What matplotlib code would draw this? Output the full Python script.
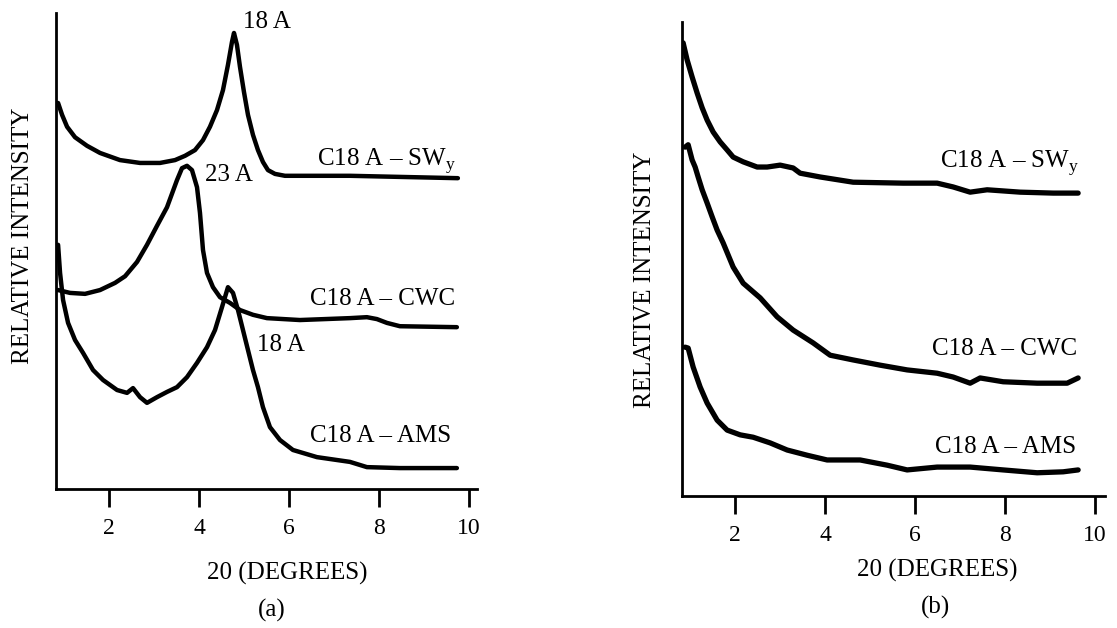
import matplotlib
matplotlib.use("Agg")
import matplotlib.pyplot as plt

plt.rcParams['font.family'] = ['Liberation Serif', 'DejaVu Serif']
plt.rcParams['mathtext.fontset'] = 'custom'
plt.rcParams['mathtext.rm'] = 'Liberation Serif'

# panel (a) - intensity in arbitrary units (0-100)
a_swy_x = [0.867, 0.956, 1.067, 1.244, 1.511, 1.8, 2.244, 2.689, 3.133, 3.467, 3.689, 3.911,
           4.089, 4.244, 4.4, 4.533, 4.644, 4.733, 4.778, 4.844, 4.911, 5.0, 5.089, 5.2,
           5.311, 5.422, 5.533, 5.689, 5.911, 7.356, 9.756]
a_swy_y = [81.1, 78.6, 76.1, 73.9, 72.1, 70.6, 69.1, 68.5, 68.5, 69.1, 70.0, 71.2,
           73.3, 76.1, 79.6, 83.8, 89.1, 93.9, 95.8, 93.3, 88.7, 83.4, 78.6, 74.4,
           71.2, 68.7, 67.0, 66.2, 65.8, 65.8, 65.3]

a_cwc_x = [0.867, 1.133, 1.467, 1.8, 2.133, 2.356, 2.622, 2.844, 3.067, 3.289, 3.511, 3.622,
           3.733, 3.844, 3.956, 4.022, 4.089, 4.178, 4.311, 4.467, 4.689, 4.911, 5.2, 5.511,
           6.244, 7.356, 7.733, 7.956, 8.178, 8.467, 9.733]
a_cwc_y = [41.8, 41.2, 41.0, 41.8, 43.3, 44.7, 47.7, 51.3, 55.3, 59.2, 64.9, 67.4,
           67.9, 67.0, 63.4, 58.0, 50.2, 45.4, 42.4, 40.3, 39.1, 37.6, 36.6, 35.9,
           35.5, 35.9, 36.1, 35.7, 34.9, 34.2, 34.0]

a_ams_x = [0.867, 0.911, 0.978, 1.089, 1.244, 1.422, 1.644, 1.867, 2.178, 2.4, 2.533, 2.689,
           2.844, 3.067, 3.289, 3.511, 3.733, 3.956, 4.178, 4.356, 4.511, 4.644, 4.756,
           4.867, 4.978, 5.089, 5.2, 5.311, 5.422, 5.578, 5.8, 6.089, 6.622, 7.356, 7.733,
           8.467, 9.733]
a_ams_y = [51.3, 45.4, 39.7, 34.9, 31.3, 28.6, 25.0, 22.9, 20.8, 20.2, 21.2, 19.3,
           18.1, 19.3, 20.4, 21.4, 23.5, 26.5, 29.8, 33.4, 38.2, 42.4, 41.2,
           37.6, 33.4, 29.2, 25.0, 21.4, 17.2, 13.0, 10.3, 8.2, 6.7, 5.7, 4.6,
           4.4, 4.4]

# panel (b)
b_swy_x = [0.844, 0.933, 1.044, 1.156, 1.267, 1.378, 1.511, 1.667, 1.822, 1.956, 2.178,
           2.489, 2.711, 3.0, 3.289, 3.444, 3.889, 4.622, 5.733, 6.489, 6.844, 7.222, 7.6,
           8.333, 9.067, 9.622]
b_swy_y = [95.6, 92.0, 88.4, 85.0, 81.9, 79.3, 76.8, 74.7, 73.0, 71.5, 70.5,
           69.4, 69.4, 69.8, 69.2, 68.1, 67.3, 66.2, 66.0, 66.0, 65.2, 64.1, 64.6,
           64.1, 63.9, 63.9]

b_cwc_x = [0.889, 0.956, 1.044, 1.111, 1.178, 1.267, 1.378, 1.489, 1.6, 1.733, 1.956, 2.178,
           2.556, 2.933, 3.289, 3.733, 4.111, 4.622, 5.222, 5.822, 6.489, 6.844, 7.222,
           7.444, 7.956, 8.711, 9.378, 9.622]
b_cwc_y = [73.6, 74.1, 70.9, 69.4, 67.3, 64.6, 61.8, 58.9, 56.1, 53.4, 48.3, 44.9,
           41.8, 37.8, 35.0, 32.3, 29.7, 28.7, 27.6, 26.6, 25.9, 25.1, 23.8,
           24.9, 24.1, 23.8, 23.8, 24.9]

b_ams_x = [0.889, 0.956, 1.067, 1.222, 1.378, 1.6, 1.822, 2.111, 2.4, 2.778, 3.156, 3.6,
           4.044, 4.778, 5.378, 5.822, 6.489, 7.222, 7.956, 8.711, 9.289, 9.622]
b_ams_y = [31.4, 31.2, 27.2, 23.0, 19.6, 16.0, 13.9, 12.9, 12.4, 11.2, 9.7, 8.6,
           7.6, 7.6, 6.5, 5.5, 6.1, 6.1, 5.5, 4.9, 5.1, 5.5]

ticks = [2, 4, 6, 8, 10]
label_swy = r'C18 A – SW$_\mathregular{y}$'
label_cwc = 'C18 A – CWC'
label_ams = 'C18 A – AMS'

fig = plt.figure(figsize=(11.17, 6.28), dpi=100)
ax1 = fig.add_axes([0.0501, 0.2213, 0.3769, 0.758])
ax2 = fig.add_axes([0.6106, 0.2102, 0.3787, 0.7548])

fs = 18
for ax, xmax in [(ax1, 10.18), (ax2, 10.22)]:
    ax.set_xlim(0.82, xmax)
    ax.set_ylim(0, 100)
    ax.spines['top'].set_visible(False)
    ax.spines['right'].set_visible(False)
    ax.spines['left'].set_linewidth(2)
    ax.spines['bottom'].set_linewidth(2)
    ax.set_yticks([])
    ax.set_xticks(ticks)
    ax.tick_params(axis='x', direction='out', length=13, width=2, pad=8, labelsize=17)

style = dict(color='black', lw=3.2, solid_joinstyle='round', solid_capstyle='round')
ax1.plot(a_swy_x, a_swy_y, **style)
ax1.plot(a_cwc_x, a_cwc_y, **style)
ax1.plot(a_ams_x, a_ams_y, **style)
ax1.text(4.98, 98.1, '18 A', fontsize=fs, va='center')
ax1.text(4.13, 66.0, '23 A', fontsize=fs, va='center')
ax1.text(5.29, 30.3, '18 A', fontsize=fs, va='center')
ax1.text(6.62, 67.9, label_swy, fontsize=fs, va='baseline')
ax1.text(6.47, 38.7, label_cwc, fontsize=fs, va='baseline')
ax1.text(6.47, 9.9, label_ams, fontsize=fs, va='baseline')

# noisy traces in (b) look thicker
style_b = dict(style, lw=3.8)
ax2.plot(b_swy_x, b_swy_y, **style_b)
ax2.plot(b_cwc_x, b_cwc_y, **style_b)
ax2.plot(b_ams_x, b_ams_y, **style_b)
ax2.text(6.56, 69.2, label_swy, fontsize=fs, va='baseline')
ax2.text(6.38, 29.7, label_cwc, fontsize=fs, va='baseline')
ax2.text(6.44, 9.1, label_ams, fontsize=fs, va='baseline')

fig.text(23 / 1117, 1 - 236 / 628, 'RELATIVE INTENSITY', rotation=90,
         ha='center', va='center', fontsize=fs)
fig.text(645 / 1117, 1 - 280 / 628, 'RELATIVE INTENSITY', rotation=90,
         ha='center', va='center', fontsize=fs)
fig.text(287 / 1117, 1 - 573 / 628, '20 (DEGREES)', ha='center', va='center', fontsize=fs)
fig.text(937 / 1117, 1 - 570 / 628, '20 (DEGREES)', ha='center', va='center', fontsize=fs)
fig.text(272 / 1117, 1 - 610 / 628, '(a)', ha='center', va='center', fontsize=fs)
fig.text(935 / 1117, 1 - 607 / 628, '(b)', ha='center', va='center', fontsize=fs)

fig.savefig('out.png', dpi=100)
